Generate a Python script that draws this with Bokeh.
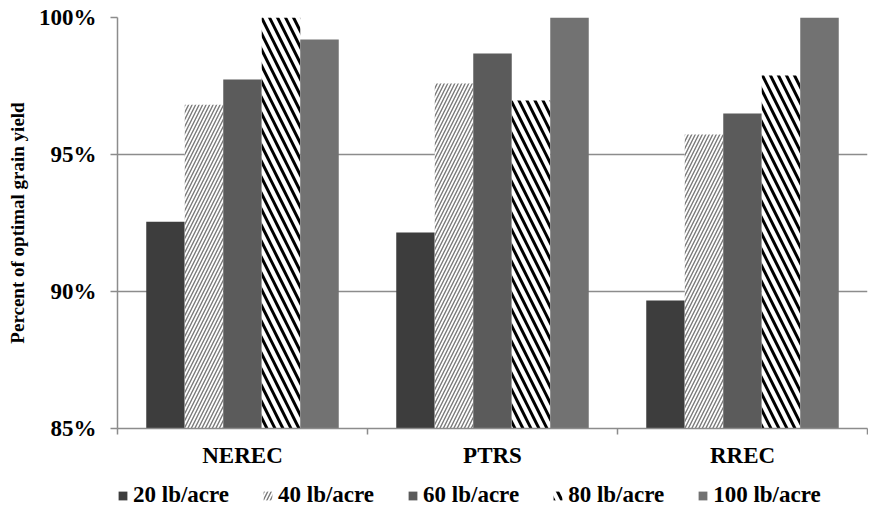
from bokeh.plotting import figure
from bokeh.models import (Range1d, FixedTicker, PrintfTickFormatter, Legend, LegendItem,
                          ColumnDataSource, LinearAxis)
from bokeh.layouts import column
from bokeh.transform import dodge
from bokeh.embed import file_html
from bokeh.resources import INLINE

sites = ["NEREC", "PTRS", "RREC"]
rates = ["20 lb/acre", "40 lb/acre", "60 lb/acre", "80 lb/acre", "100 lb/acre"]
rate20 = [92.55, 92.15, 89.67]
rate40 = [96.82, 97.59, 95.73]
rate60 = [97.74, 98.69, 96.50]
rate80 = [100.0, 96.97, 97.88]
rate100 = [99.2, 100.0, 100.0]
yticks = [85, 90, 95, 100]

FONT = "Liberation Serif"
AX = "#8c8c8c"
W = 868

centers = [i + 0.5 for i in range(len(sites))]
bounds = list(range(len(sites) + 1))

p = figure(x_range=Range1d(0, len(sites)), y_range=Range1d(85, 100),
           width=W, height=470, output_backend="svg", toolbar_location=None,
           x_axis_location=None,
           min_border_left=117, min_border_right=1, min_border_top=17, min_border_bottom=10)
p.outline_line_color = None
p.background_fill_color = "white"

src = ColumnDataSource(dict(x=centers, r20=rate20, r40=rate40, r60=rate60, r80=rate80, r100=rate100))

w = 0.154
styles = [
    dict(fill_color="#3d3d3d"),
    dict(fill_color="white", hatch_pattern="right_diagonal_line", hatch_color="#7a7a7a", hatch_scale=7, hatch_weight=1.4),
    dict(fill_color="#5b5b5b"),
    dict(fill_color="white", hatch_pattern="left_diagonal_line", hatch_color="black", hatch_scale=16, hatch_weight=3),
    dict(fill_color="#727272"),
]
cols = ["r20", "r40", "r60", "r80", "r100"]
offs = [-2 * w, -w, 0, w, 2 * w]
for c, o, st in zip(cols, offs, styles):
    p.vbar(x=dodge("x", o), top=c, bottom=85, width=w, source=src,
           line_color=None, **st)

p.xgrid.grid_line_color = None
p.ygrid.grid_line_color = AX
p.ygrid.grid_line_width = 1.5
p.yaxis.ticker = FixedTicker(ticks=yticks)
p.yaxis.formatter = PrintfTickFormatter(format="%d%%")
p.yaxis.minor_tick_line_color = None
p.yaxis.major_tick_in = 0
p.yaxis.major_tick_out = 7
p.yaxis.major_label_standoff = 14
p.yaxis.axis_label = "Percent of optimal grain yield"
p.yaxis.axis_label_standoff = 8
p.yaxis.axis_line_color = AX
p.yaxis.axis_line_width = 1.5
p.yaxis.major_tick_line_color = AX
p.yaxis.major_tick_line_width = 1.5
p.yaxis.major_label_text_font = FONT
p.yaxis.major_label_text_font_style = "bold"
p.yaxis.major_label_text_color = "black"
p.yaxis.major_label_text_font_size = "23px"
p.yaxis.axis_label_text_font = FONT
p.yaxis.axis_label_text_font_style = "bold"
p.yaxis.axis_label_text_color = "black"
p.yaxis.axis_label_text_font_size = "19px"

# site names at group centres, short tick marks at group boundaries
cat_axis = LinearAxis(ticker=FixedTicker(ticks=centers, minor_ticks=bounds),
                      major_label_overrides={c: s for c, s in zip(centers, sites)},
                      major_tick_in=0, major_tick_out=0, major_tick_line_color=None,
                      minor_tick_in=0, minor_tick_out=6, minor_tick_line_color=AX,
                      minor_tick_line_width=1.5,
                      axis_line_color=AX, axis_line_width=1.5,
                      major_label_standoff=8,
                      major_label_text_font=FONT, major_label_text_font_style="bold",
                      major_label_text_color="black", major_label_text_font_size="23px")
p.add_layout(cat_axis, "below")

# legend strip (swatches are off-range stand-ins carrying the bar styles)
lg = figure(width=W, height=41, x_range=Range1d(0, 1), y_range=Range1d(0, 1),
            output_backend="svg", toolbar_location=None,
            min_border_left=0, min_border_right=0, min_border_top=0, min_border_bottom=0)
lg.axis.visible = False
lg.grid.grid_line_color = None
lg.outline_line_color = None
items = []
for st, lab in zip(styles, rates):
    r = lg.vbar(x=[-10], top=[-10], bottom=[-11], width=0.1, line_color=None, **st)
    items.append(LegendItem(label=lab, renderers=[r]))
legend = Legend(items=items, orientation="horizontal", location=(0, 3),
                border_line_color=None, background_fill_alpha=0,
                label_text_font=FONT, label_text_font_style="bold", label_text_font_size="23px",
                label_text_color="black",
                glyph_width=11, glyph_height=11, label_standoff=5, spacing=33,
                padding=2, margin=0)
lg.add_layout(legend, "center")

layout = column(p, lg, spacing=0)
open("out.html", "w").write(file_html(layout, INLINE))
